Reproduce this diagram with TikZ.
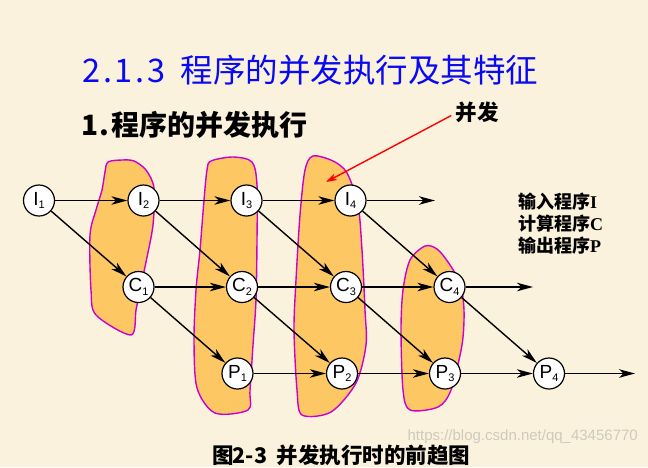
\documentclass[tikz,border=0pt]{standalone}
\usepackage{fontspec}
\setmainfont{Liberation Sans}
\newfontfamily\cjk{Noto Sans CJK SC}
\newfontfamily\serifb{Liberation Serif}
\usetikzlibrary{arrows.meta}
\definecolor{paper}{HTML}{FAF2DC}
\definecolor{ochre}{HTML}{FDC864}
\definecolor{plum}{HTML}{CC00CC}
\definecolor{titleblue}{HTML}{0A0AF2}
\newcommand{\hw}[1]{\makebox[0.5em][c]{#1}}
\newcommand{\plbl}[2]{\fontsize{19}{19}\selectfont #1\raisebox{-3.5pt}{\fontsize{11}{11}\selectfont #2}}
\tikzset{
  proc/.style={circle,draw=black,fill=white,line width=1.2pt,minimum size=31pt,inner sep=0pt},
  flow/.style={line width=1.4pt,-{Stealth[length=16pt,width=8.5pt,inset=4.5pt]}},
  blob/.style={fill=ochre,draw=plum,line width=1.4pt}
}

\begin{document}
\begin{tikzpicture}[x=1pt,y=-1pt,line join=round]
  \fill[paper] (0,0) rectangle (648,467);
  \node[anchor=west,inner sep=0pt,text=titleblue,font=\cjk\fontsize{32.5}{32.5}\selectfont] (title) at (83,70) {\hw{2}\hw{.}\hw{1}\hw{.}\hw{3}\hw{ }程序的并发执行及其特征};
  \node[anchor=west,inner sep=0pt,font=\cjk\bfseries\fontsize{28}{28}\selectfont] (sub) at (83,124.5) {\hw{1}\hw{.}程序的并发执行};
  \draw[blob] plot[smooth cycle,tension=0.5] coordinates {(108,162) (122,160) (134,161) (146,170) (154,188) (153,225) (146,262) (140,290) (136,310) (131,335) (96,315) (91,290) (90,235) (96,210) (102,190) (105,172)};
  \draw[blob] plot[smooth cycle,tension=0.5] coordinates {(211,161) (233,157) (252,162) (257,185) (257,240) (256,300) (253,345) (250,390) (248,410) (215,413) (197,388) (194,340) (196,290) (200,250) (204,200) (207,170)};
  \draw[blob] plot[smooth cycle,tension=0.5] coordinates {(313,156) (333,161) (347,173) (358,205) (362,250) (365,310) (366,345) (356,383) (331,412) (302,415) (297,390) (294,330) (296,280) (300,215) (305,170)};
  \draw[blob] plot[smooth cycle,tension=0.5] coordinates {(425,246) (437,249) (448,262) (460,283) (464,310) (462,345) (451,390) (438,407) (410,410) (403,390) (401,330) (403,290) (410,260)};
  \foreach \k/\xi/\xc/\xp in {1/39/138.5/237.5,2/143.5/242/342,3/246.5/346/445,4/350.5/449.5/549}{
    \node[proc] (I\k) at (\xi,200.5) {\plbl{I}{\k}};
    \node[proc] (C\k) at (\xc,287) {\plbl{C}{\k}};
    \node[proc] (P\k) at (\xp,373.5) {\plbl{P}{\k}};
  }
  \coordinate (Iend) at (435,200.5);
  \coordinate (Cend) at (533,287);
  \coordinate (Pend) at (635,373.5);
  \foreach \k/\n in {1/2,2/3,3/4}{\draw[flow] (I\k) -- (I\n); \draw[flow] (C\k) -- (C\n); \draw[flow] (P\k) -- (P\n);}
  \foreach \k in {1,...,4}{\draw[flow] (I\k) -- (C\k); \draw[flow] (C\k) -- (P\k);}
  \draw[flow] (I4) -- (Iend);
  \draw[flow] (C4) -- (Cend);
  \draw[flow] (P4) -- (Pend);
  \node[inner sep=4pt,font=\cjk\bfseries\fontsize{21.5}{21.5}\selectfont] (bf) at (477,112.5) {并发};
  \coordinate (bftip) at (326,182);
  \draw[red,line width=1.4pt,-{Stealth[length=11pt,width=7pt,inset=3pt]}] ([yshift=-3pt]bf.west) -- (bftip);
  \node[anchor=west,inner sep=0pt,align=left,font=\cjk\bfseries\fontsize{18}{22}\selectfont] (legend) at (518,224) {输入程序{\serifb\bfseries I}\\计算程序{\serifb\bfseries C}\\输出程序{\serifb\bfseries P}};
  \node[anchor=west,inner sep=0pt,font=\cjk\bfseries\fontsize{21.5}{21.5}\selectfont] (cap) at (212,455) {图\hw{2}\hw{-}\hw{3}\hw{ }并发执行时的前趋图};
  \node[anchor=east,inner sep=0pt,text=gray!35!paper,font=\fontsize{15}{15}\selectfont] (wm) at (638,437) {https://blog.csdn.net/qq\_43456770};
\end{tikzpicture}
\end{document}
